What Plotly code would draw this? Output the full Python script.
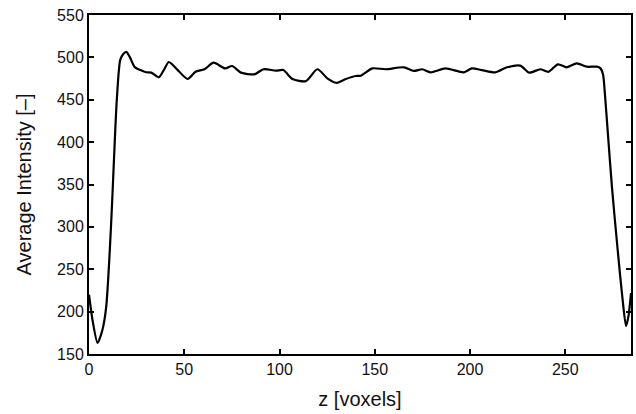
import plotly.graph_objects as go

z_vals = [0, 2, 4.5, 7, 9, 10.9, 12.2, 13.5, 14.6, 16.4, 18, 19.6, 21.5, 24, 27, 30, 32.7, 36.6, 39,
          41.9, 44, 46.6, 51.8, 55.9, 60.6, 65.4, 71.4, 75.1, 79.8, 86.8, 91.6, 98.1, 102, 106.8,
          113.8, 119.9, 125.1, 129.8, 134.8, 140, 142.6, 148.7, 155.7, 165.3, 170.5, 174.9, 179.3,
          187.1, 196.7, 201, 206.3, 213.3, 219.4, 226.4, 231.1, 236.9, 241.2, 246.1, 250.8, 256,
          261.3, 266.5, 268.5, 269.8, 270.9, 272.3, 274.5, 277.5, 280.1, 281.9, 283.2, 284.5]
intensity = [220, 188, 163, 178, 205, 272, 332, 400, 450, 497, 504, 506.5, 500, 488.5, 485, 482.4,
             482, 476.5, 484, 494.5, 491, 485, 474.5, 483, 486, 493.7, 487, 489.8, 482, 480, 486,
             484.3, 485, 474.5, 472, 486, 475.3, 470, 474.5, 478, 478.4, 487, 486, 488.3, 484, 486,
             482.4, 487, 482.4, 487, 485, 482.4, 488.3, 490.2, 482, 486, 483, 491.8, 488.3, 493,
             489, 489, 487, 480, 454, 412, 347, 273, 214, 183, 195, 222]

x_ticks = [0, 50, 100, 150, 200, 250]
y_ticks = [150, 200, 250, 300, 350, 400, 450, 500, 550]

fig = go.Figure()
fig.add_trace(go.Scatter(x=z_vals, y=intensity, mode="lines",
                         line=dict(color="black", width=2.2, shape="spline", smoothing=0.7),
                         showlegend=False, hoverinfo="skip"))

font = dict(family="Liberation Sans, Arial, sans-serif", color="#111111")
axis_common = dict(showgrid=False, zeroline=False, showline=True, linecolor="black", linewidth=2,
                   mirror="allticks", ticks="inside", ticklen=5, tickwidth=1.5, tickcolor="black",
                   tickfont=dict(size=16, **font))
fig.update_xaxes(range=[0, 284.5], tickvals=x_ticks,
                 title=dict(text="z [voxels]", font=dict(size=20, **font), standoff=15),
                 **axis_common)
fig.update_yaxes(range=[150, 550], tickvals=y_ticks,
                 title=dict(text="Average Intensity [–]", font=dict(size=20, **font), standoff=20),
                 **axis_common)
fig.update_layout(width=636, height=414, margin=dict(l=89, r=3, t=15, b=60),
                  plot_bgcolor="white", paper_bgcolor="white")
fig.write_html("out.html")
